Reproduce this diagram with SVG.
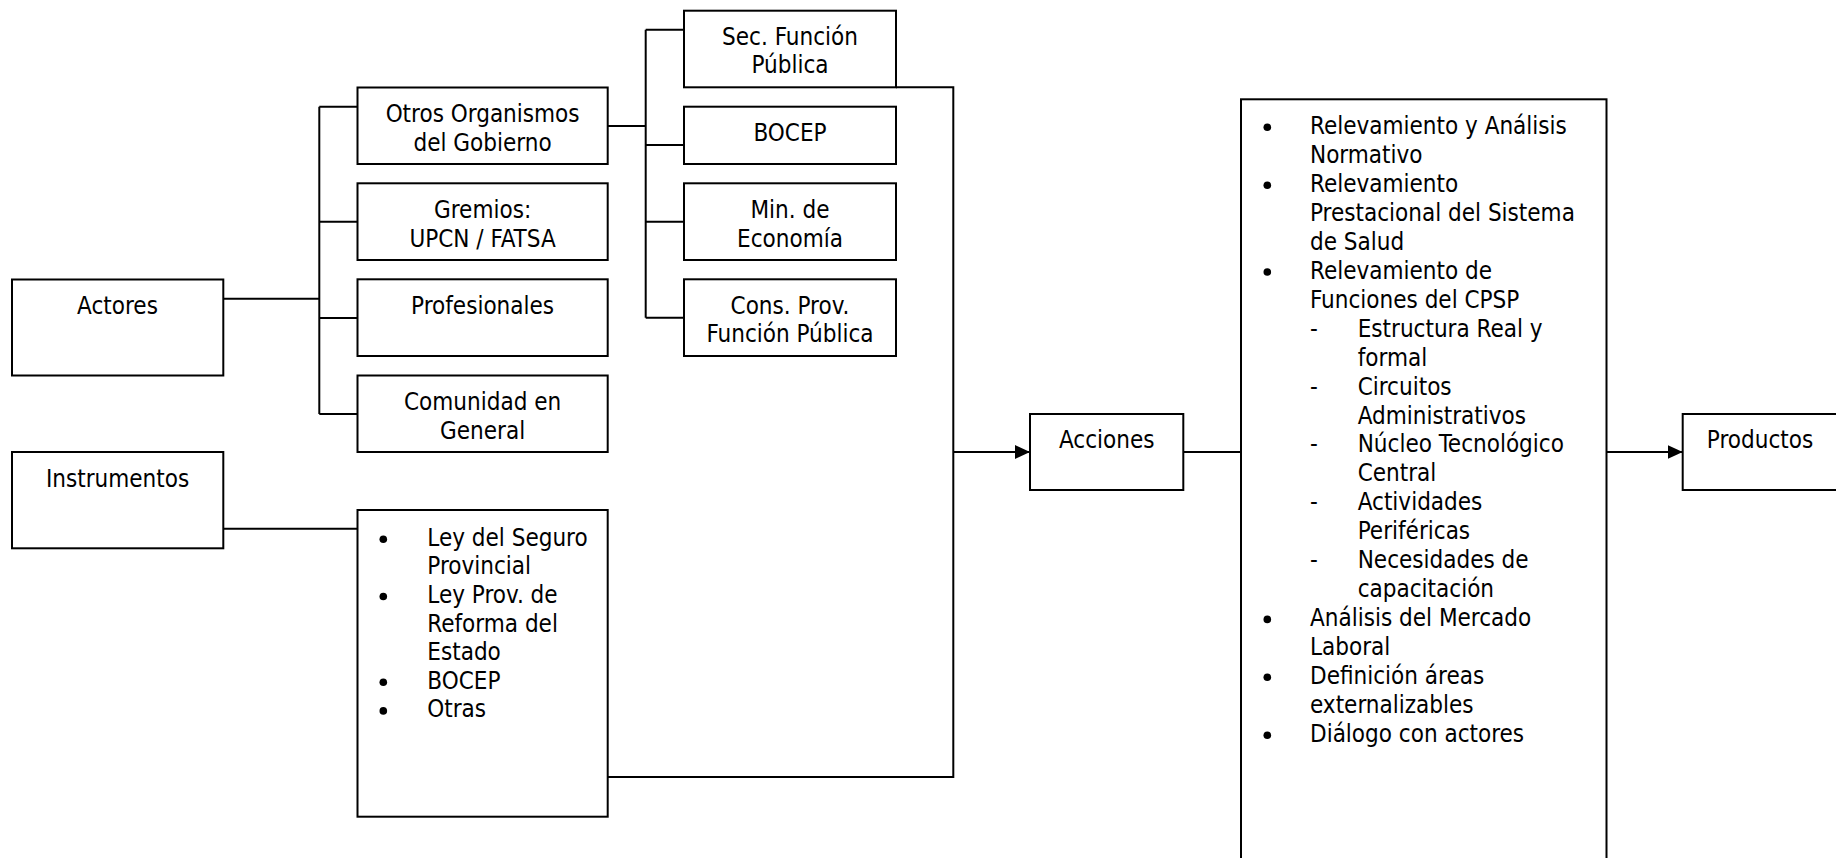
<svg xmlns="http://www.w3.org/2000/svg" width="1836" height="858" viewBox="0 0 1836 858">
<style>
  .box { fill: #fff; stroke: #000; stroke-width: 2; }
  .ln { fill: none; stroke: #000; stroke-width: 2; }
  text { font-family: "DejaVu Sans", "Liberation Sans", sans-serif; font-stretch: condensed; font-size: 24px; fill: #000; }
  .c { text-anchor: middle; }
  .dot { fill: #000; }
</style>
<defs>
  <marker id="arr" markerUnits="userSpaceOnUse" markerWidth="16" markerHeight="14" refX="15" refY="7" orient="auto">
    <path d="M0,0 L15,7 L0,14 z" fill="#000"/>
  </marker>
</defs>
<rect width="1836" height="858" fill="#fff"/>
<g id="connectors">
  <path class="ln" d="M223.3,298.7 H319.3"/>
  <path class="ln" d="M319.3,106.7 V414"/>
  <path class="ln" d="M319.3,106.7 H357.5 M319.3,221.7 H357.5 M319.3,318 H357.5 M319.3,414 H357.5"/>
  <path class="ln" d="M607.7,126 H645.7"/>
  <path class="ln" d="M645.7,29.7 V317.7"/>
  <path class="ln" d="M645.7,29.7 H684 M645.7,145 H684 M645.7,221.7 H684 M645.7,317.7 H684"/>
  <path class="ln" d="M896,87.3 H953.3 V777 H607.7"/>
  <path class="ln" d="M953.3,452 H1030" marker-end="url(#arr)"/>
  <path class="ln" d="M223.3,528.7 H357.5"/>
  <path class="ln" d="M1183.3,452 H1241"/>
  <path class="ln" d="M1606.5,452 H1682.7" marker-end="url(#arr)"/>
</g>
<g id="actores">
  <rect class="box" x="12" y="279.5" width="211.3" height="96"/>
  <text class="c" x="117.5" y="314">Actores</text>
</g>
<g id="otros">
  <rect class="box" x="357.5" y="87.5" width="250.2" height="76.5"/>
  <text class="c" x="482.6" y="122.3">Otros Organismos</text>
  <text class="c" x="482.6" y="151">del Gobierno</text>
</g>
<g id="gremios">
  <rect class="box" x="357.5" y="183.3" width="250.2" height="76.7"/>
  <text class="c" x="482.6" y="217.7">Gremios:</text>
  <text class="c" x="482.6" y="246.5">UPCN / FATSA</text>
</g>
<g id="profesionales">
  <rect class="box" x="357.5" y="279.3" width="250.2" height="76.7"/>
  <text class="c" x="482.6" y="313.5">Profesionales</text>
</g>
<g id="comunidad">
  <rect class="box" x="357.5" y="375.5" width="250.2" height="76.5"/>
  <text class="c" x="482.6" y="410">Comunidad en</text>
  <text class="c" x="482.6" y="438.7">General</text>
</g>
<g id="sec-funcion">
  <rect class="box" x="684" y="10.7" width="212" height="76.6"/>
  <text class="c" x="790" y="44.5">Sec. Función</text>
  <text class="c" x="790" y="73.3">Pública</text>
</g>
<g id="bocep">
  <rect class="box" x="684" y="106.7" width="212" height="57.3"/>
  <text class="c" x="790" y="140.5">BOCEP</text>
</g>
<g id="min-economia">
  <rect class="box" x="684" y="183.3" width="212" height="76.7"/>
  <text class="c" x="790" y="217.7">Min. de</text>
  <text class="c" x="790" y="246.5">Economía</text>
</g>
<g id="cons-prov">
  <rect class="box" x="684" y="279.3" width="212" height="76.7"/>
  <text class="c" x="790" y="313.5">Cons. Prov.</text>
  <text class="c" x="790" y="342.3">Función Pública</text>
</g>
<g id="instrumentos">
  <rect class="box" x="12" y="452" width="211.3" height="96.3"/>
  <text class="c" x="117.5" y="487.3">Instrumentos</text>
</g>
<g id="leyes">
  <rect class="box" x="357.5" y="510" width="250.2" height="306.7"/>
  <circle class="dot" cx="383.3" cy="539.3" r="3.8"/>
  <circle class="dot" cx="383.3" cy="596.5" r="3.8"/>
  <circle class="dot" cx="383.3" cy="682.3" r="3.8"/>
  <circle class="dot" cx="383.3" cy="710.9" r="3.8"/>
  <text x="427.3" y="545.7">Ley del Seguro</text>
  <text x="427.3" y="574.3">Provincial</text>
  <text x="427.3" y="602.9">Ley Prov. de</text>
  <text x="427.3" y="631.5">Reforma del</text>
  <text x="427.3" y="660.1">Estado</text>
  <text x="427.3" y="688.7">BOCEP</text>
  <text x="427.3" y="717.3">Otras</text>
</g>
<g id="acciones">
  <rect class="box" x="1030" y="414" width="153.3" height="76"/>
  <text class="c" x="1106.7" y="448.3">Acciones</text>
</g>
<g id="acciones-detalle">
  <rect class="box" x="1241" y="99.3" width="365.5" height="790"/>
  <circle class="dot" cx="1267.3" cy="127.3" r="3.8"/>
  <circle class="dot" cx="1267.3" cy="185.2" r="3.8"/>
  <circle class="dot" cx="1267.3" cy="272" r="3.8"/>
  <circle class="dot" cx="1267.3" cy="619.4" r="3.8"/>
  <circle class="dot" cx="1267.3" cy="677.3" r="3.8"/>
  <circle class="dot" cx="1267.3" cy="735.2" r="3.8"/>
  <text x="1310" y="134">Relevamiento y Análisis</text>
  <text x="1310" y="162.95">Normativo</text>
  <text x="1310" y="191.9">Relevamiento</text>
  <text x="1310" y="220.85">Prestacional del Sistema</text>
  <text x="1310" y="249.8">de Salud</text>
  <text x="1310" y="278.75">Relevamiento de</text>
  <text x="1310" y="307.7">Funciones del CPSP</text>
  <text x="1310" y="336.65">-</text>
  <text x="1357.7" y="336.65">Estructura Real y</text>
  <text x="1357.7" y="365.6">formal</text>
  <text x="1310" y="394.55">-</text>
  <text x="1357.7" y="394.55">Circuitos</text>
  <text x="1357.7" y="423.5">Administrativos</text>
  <text x="1310" y="452.45">-</text>
  <text x="1357.7" y="452.45">Núcleo Tecnológico</text>
  <text x="1357.7" y="481.4">Central</text>
  <text x="1310" y="510.35">-</text>
  <text x="1357.7" y="510.35">Actividades</text>
  <text x="1357.7" y="539.3">Periféricas</text>
  <text x="1310" y="568.25">-</text>
  <text x="1357.7" y="568.25">Necesidades de</text>
  <text x="1357.7" y="597.2">capacitación</text>
  <text x="1310" y="626.15">Análisis del Mercado</text>
  <text x="1310" y="655.1">Laboral</text>
  <text x="1310" y="684.05">Definición áreas</text>
  <text x="1310" y="713">externalizables</text>
  <text x="1310" y="741.95">Diálogo con actores</text>
</g>
<g id="productos">
  <rect class="box" x="1682.7" y="414" width="160" height="76"/>
  <text class="c" x="1760" y="448.3">Productos</text>
</g>
</svg>
